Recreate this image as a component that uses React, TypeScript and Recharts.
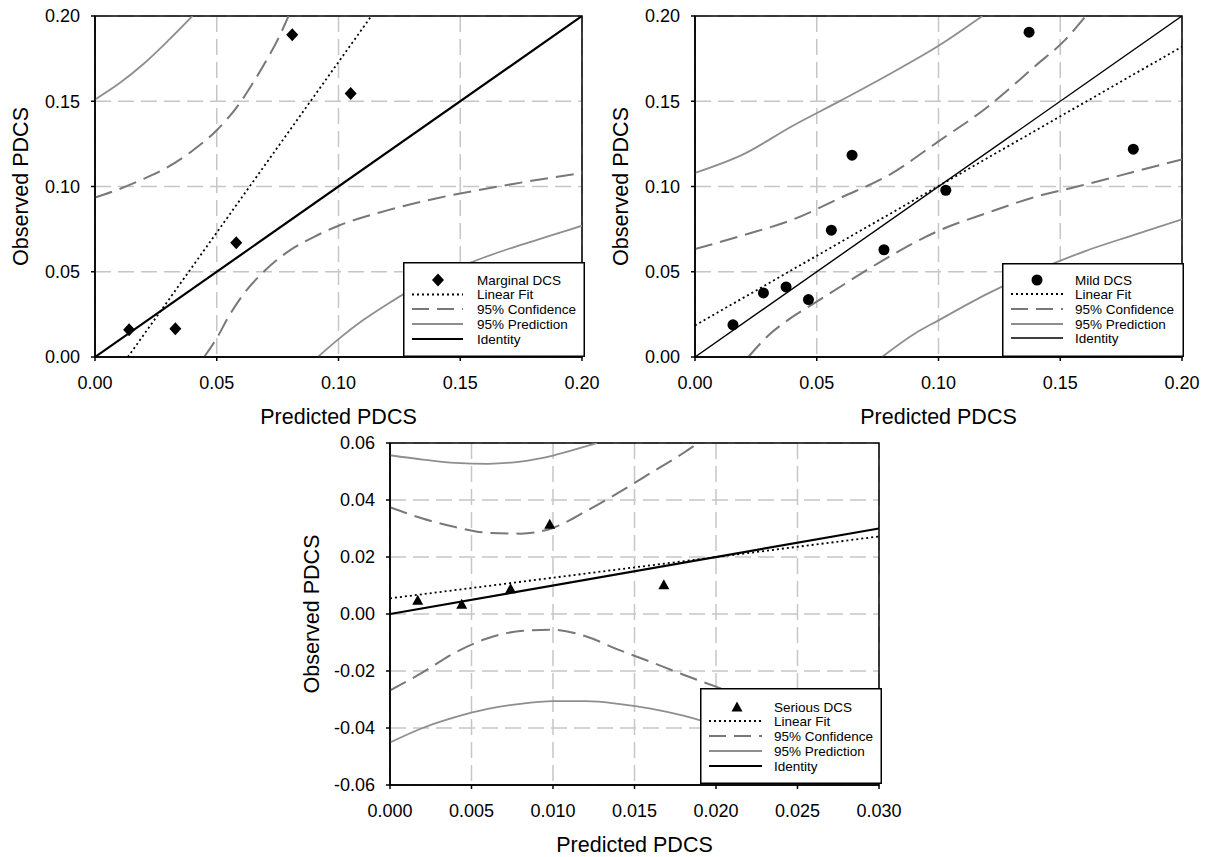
import React from 'react';
import {
  ComposedChart, Scatter, Line, XAxis, YAxis, CartesianGrid,
  ReferenceArea, Legend,
} from 'recharts';

type Pt = [number, number];

// ---- Marginal DCS ----
const marginalX = [0.014, 0.033, 0.058, 0.081, 0.105];
const marginalY = [0.016, 0.0165, 0.067, 0.189, 0.1545];
const marginalFit: Pt[] = [[0.0135, 0], [0.1135, 0.2]];
const marginalCiUpper: Pt[] = [
  [0, 0.0935], [0.01, 0.0985], [0.02, 0.1045], [0.03, 0.1115], [0.04, 0.121],
  [0.05, 0.133], [0.06, 0.15], [0.065, 0.161], [0.07, 0.173], [0.075, 0.186], [0.0795, 0.2],
];
const marginalCiLower: Pt[] = [
  [0.0448, 0], [0.05, 0.011], [0.055, 0.024], [0.06, 0.035], [0.07, 0.051], [0.08, 0.0625],
  [0.09, 0.0705], [0.1, 0.077], [0.12, 0.086], [0.14, 0.093], [0.16, 0.0985], [0.18, 0.1035], [0.2, 0.108],
];
const marginalPiUpper: Pt[] = [[0, 0.151], [0.01, 0.1605], [0.02, 0.172], [0.03, 0.1855], [0.04, 0.2]];
const marginalPiLower: Pt[] = [
  [0.0915, 0], [0.1, 0.0105], [0.11, 0.0215], [0.12, 0.031], [0.13, 0.0395], [0.14, 0.047],
  [0.15, 0.053], [0.16, 0.0585], [0.17, 0.0635], [0.18, 0.068], [0.19, 0.0725], [0.2, 0.077],
];

// ---- Mild DCS ----
const mildX = [0.0156, 0.0281, 0.0374, 0.0466, 0.056, 0.0645, 0.0776, 0.103, 0.1372, 0.18];
const mildY = [0.0189, 0.0376, 0.0411, 0.0337, 0.0744, 0.1184, 0.0629, 0.0978, 0.1905, 0.1219];
const mildFit: Pt[] = [[0, 0.0185], [0.2, 0.182]];
const mildCiUpper: Pt[] = [
  [0, 0.0633], [0.02, 0.0715], [0.04, 0.0805], [0.06, 0.0935], [0.08, 0.107], [0.1, 0.1265],
  [0.12, 0.1465], [0.14, 0.171], [0.152, 0.186], [0.1605, 0.2],
];
const mildCiLower: Pt[] = [
  [0.0219, 0], [0.03, 0.0125], [0.04, 0.0235], [0.05, 0.0325], [0.06, 0.0415], [0.07, 0.0505],
  [0.08, 0.059], [0.09, 0.067], [0.1, 0.074], [0.12, 0.0845], [0.14, 0.094], [0.16, 0.101],
  [0.18, 0.1085], [0.2, 0.1159],
];
const mildPiUpper: Pt[] = [[0, 0.108], [0.02, 0.119], [0.04, 0.1355], [0.06, 0.1505], [0.08, 0.166], [0.1, 0.1825], [0.118, 0.2]];
const mildPiLower: Pt[] = [
  [0.0768, 0], [0.09, 0.0135], [0.1, 0.0215], [0.12, 0.037], [0.14, 0.0505], [0.16, 0.062], [0.18, 0.0715], [0.2, 0.0808],
];

// ---- Serious DCS ----
const seriousX = [0.0017, 0.0044, 0.0074, 0.0098, 0.0168];
const seriousY = [0.0048, 0.0034, 0.0089, 0.0315, 0.0103];
const seriousFit: Pt[] = [[0, 0.0055], [0.03, 0.0272]];
const seriousCiUpper: Pt[] = [
  [0, 0.0375], [0.002, 0.0335], [0.004, 0.0305], [0.006, 0.0285], [0.008, 0.0282], [0.01, 0.0302],
  [0.012, 0.036], [0.014, 0.0425], [0.016, 0.0495], [0.018, 0.0565], [0.0189, 0.06],
];
const seriousCiLower: Pt[] = [
  [0, -0.0268], [0.002, -0.0205], [0.004, -0.0135], [0.006, -0.0085], [0.008, -0.006], [0.01, -0.0055],
  [0.012, -0.0078], [0.014, -0.0125], [0.016, -0.0168], [0.018, -0.0213], [0.02, -0.0255],
  [0.022, -0.0295], [0.025, -0.035], [0.03, -0.044],
];
const seriousPiUpper: Pt[] = [
  [0, 0.0557], [0.002, 0.0542], [0.004, 0.053], [0.006, 0.0527], [0.008, 0.0535], [0.01, 0.0556], [0.012, 0.0588], [0.0127, 0.06],
];
const seriousPiLower: Pt[] = [
  [0, -0.0451], [0.002, -0.04], [0.004, -0.0362], [0.006, -0.0333], [0.008, -0.0315], [0.01, -0.0306],
  [0.012, -0.0306], [0.014, -0.0315], [0.016, -0.0332], [0.018, -0.0357], [0.02, -0.039], [0.025, -0.048], [0.03, -0.057],
];

const ticksTop = [0, 0.05, 0.1, 0.15, 0.2];
const ticksSeriousX = [0, 0.005, 0.01, 0.015, 0.02, 0.025, 0.03];
const ticksSeriousY = [-0.06, -0.04, -0.02, 0, 0.02, 0.04, 0.06];

const FONT = '"Liberation Sans", Arial, Helvetica, sans-serif';
const CI = { stroke: '#787878', strokeWidth: 2, dash: '18 8' };
const PI = { stroke: '#8e8e8e', strokeWidth: 1.8 };
const FIT = { stroke: '#000', strokeWidth: 1.8, dash: '2 3' };

const rows = (pts: Pt[]) => pts.map(([x, y]) => ({ x, y }));
const zip = (xs: number[], ys: number[]) => xs.map((x, i) => ({ x, y: ys[i] }));

type Shape = 'diamond' | 'circle' | 'triangle';

function marker(kind: Shape, cx: number, cy: number) {
  if (kind === 'diamond') return <path d={`M${cx},${cy - 6.5}L${cx + 6},${cy}L${cx},${cy + 6.5}L${cx - 6},${cy}Z`} fill="#000" />;
  if (kind === 'circle') return <circle cx={cx} cy={cy} r={5.5} fill="#000" />;
  return <path d={`M${cx},${cy - 5.5}L${cx + 5.5},${cy + 4.5}L${cx - 5.5},${cy + 4.5}Z`} fill="#000" />;
}

function LegendBox({ w, h, name, kind, idWidth, rowY, sx1, sx2, tx, mx }: {
  w: number; h: number; name: string; kind: Shape; idWidth: number;
  rowY: number[]; sx1: number; sx2: number; tx: number; mx: number;
}) {
  const labels = [name, 'Linear Fit', '95% Confidence', '95% Prediction', 'Identity'];
  return (
    <svg width={w} height={h} style={{ display: 'block' }}>
      <rect x={0.75} y={0.75} width={w - 1.5} height={h - 1.5} fill="#fff" stroke="#000" strokeWidth={1.5} />
      {marker(kind, mx, rowY[0])}
      <line x1={sx1} x2={sx2} y1={rowY[1]} y2={rowY[1]} stroke={FIT.stroke} strokeWidth={FIT.strokeWidth} strokeDasharray={FIT.dash} />
      <line x1={sx1} x2={sx2} y1={rowY[2]} y2={rowY[2]} stroke={CI.stroke} strokeWidth={CI.strokeWidth} strokeDasharray="17 8" />
      <line x1={sx1} x2={sx2} y1={rowY[3]} y2={rowY[3]} stroke={PI.stroke} strokeWidth={PI.strokeWidth} />
      <line x1={sx1} x2={sx2} y1={rowY[4]} y2={rowY[4]} stroke="#000" strokeWidth={idWidth} />
      {labels.map((t, i) => (
        <text key={t} x={tx} y={rowY[i]} dy="0.36em" fontSize={13.5} fill="#000" fontFamily={FONT}>{t}</text>
      ))}
    </svg>
  );
}

interface PanelProps {
  left: number; top: number; width: number; height: number;
  margin: { top: number; right: number; bottom: number; left: number };
  yAxisWidth: number; xAxisHeight: number;
  xDomain: [number, number]; yDomain: [number, number];
  xTicks: number[]; yTicks: number[]; xDigits: number;
  points: { x: number; y: number }[];
  fit: Pt[]; ciUp: Pt[]; ciLo: Pt[]; piUp: Pt[]; piLo: Pt[];
  kind: Shape; name: string; idWidth: number;
  yLabelOffset: number; xLabelOffset: number;
  legend: { left: number; top: number; w: number; h: number; rowY: number[]; sx1: number; sx2: number; tx: number; mx: number };
}

function Panel(p: PanelProps) {
  const identity = rows([[p.xDomain[0], p.xDomain[0]], [p.xDomain[1], p.xDomain[1]]]);
  const tick = { fontSize: 18, fill: '#000', fontFamily: FONT };
  const lg = p.legend;
  return (
    <div style={{ position: 'absolute', left: p.left, top: p.top }}>
      <ComposedChart width={p.width} height={p.height} margin={p.margin}>
        <CartesianGrid stroke="#c6c6c6" strokeWidth={1.5} strokeDasharray="16 7" />
        <XAxis
          dataKey="x" type="number" domain={p.xDomain} ticks={p.xTicks} allowDataOverflow
          height={p.xAxisHeight} tick={tick} tickSize={4} tickMargin={15}
          tickFormatter={(v: number) => v.toFixed(p.xDigits)}
          axisLine={{ stroke: '#000', strokeWidth: 1.5 }} tickLine={{ stroke: '#000', strokeWidth: 1.5 }}
          label={{ value: 'Predicted PDCS', position: 'insideBottom', offset: p.xLabelOffset, fontSize: 21.5, fill: '#000', fontFamily: FONT }}
        />
        <YAxis
          dataKey="y" type="number" domain={p.yDomain} ticks={p.yTicks} allowDataOverflow
          width={p.yAxisWidth} tick={tick} tickSize={4} tickMargin={11}
          tickFormatter={(v: number) => v.toFixed(2)}
          axisLine={{ stroke: '#000', strokeWidth: 1.5 }} tickLine={{ stroke: '#000', strokeWidth: 1.5 }}
          label={{ value: 'Observed PDCS', angle: -90, position: 'insideLeft', offset: p.yLabelOffset, fontSize: 21.5, fill: '#000', fontFamily: FONT, style: { textAnchor: 'middle' } }}
        />
        <ReferenceArea x1={p.xDomain[0]} x2={p.xDomain[1]} y1={p.yDomain[0]} y2={p.yDomain[1]} fill="none" stroke="#000" strokeWidth={1.5} />
        <Line data={rows(p.piUp)} dataKey="y" type="monotone" dot={false} activeDot={false} isAnimationActive={false} stroke={PI.stroke} strokeWidth={PI.strokeWidth} />
        <Line data={rows(p.piLo)} dataKey="y" type="monotone" dot={false} activeDot={false} isAnimationActive={false} stroke={PI.stroke} strokeWidth={PI.strokeWidth} />
        <Line data={rows(p.ciUp)} dataKey="y" type="monotone" dot={false} activeDot={false} isAnimationActive={false} stroke={CI.stroke} strokeWidth={CI.strokeWidth} strokeDasharray={CI.dash} />
        <Line data={rows(p.ciLo)} dataKey="y" type="monotone" dot={false} activeDot={false} isAnimationActive={false} stroke={CI.stroke} strokeWidth={CI.strokeWidth} strokeDasharray={CI.dash} />
        <Line data={identity} dataKey="y" type="linear" dot={false} activeDot={false} isAnimationActive={false} stroke="#000" strokeWidth={p.idWidth} />
        <Line data={rows(p.fit)} dataKey="y" type="linear" dot={false} activeDot={false} isAnimationActive={false} stroke={FIT.stroke} strokeWidth={FIT.strokeWidth} strokeDasharray={FIT.dash} />
        <Scatter data={p.points} isAnimationActive={false} shape={(s: any) => marker(p.kind, s.cx, s.cy)} />
        <Legend
          layout="vertical" align="center" verticalAlign="middle"
          wrapperStyle={{ left: lg.left, top: lg.top, width: lg.w, height: lg.h }}
          content={() => (
            <LegendBox w={lg.w} h={lg.h} name={p.name} kind={p.kind} idWidth={p.idWidth}
              rowY={lg.rowY} sx1={lg.sx1} sx2={lg.sx2} tx={lg.tx} mx={lg.mx} />
          )}
        />
      </ComposedChart>
    </div>
  );
}

export default function App() {
  return (
    <div style={{ position: 'absolute', left: 0, top: 0, width: 1208, height: 857, background: '#fff', fontFamily: FONT, overflow: 'hidden' }}>
      <Panel
        left={0} top={0} width={600} height={432}
        margin={{ top: 16, right: 18, bottom: 0, left: 0 }} yAxisWidth={95} xAxisHeight={75}
        xDomain={[0, 0.2]} yDomain={[0, 0.2]} xTicks={ticksTop} yTicks={ticksTop} xDigits={2}
        points={zip(marginalX, marginalY)} fit={marginalFit}
        ciUp={marginalCiUpper} ciLo={marginalCiLower} piUp={marginalPiUpper} piLo={marginalPiLower}
        kind="diamond" name="Marginal DCS" idWidth={2.2} yLabelOffset={20} xLabelOffset={8}
        legend={{ left: 403, top: 262, w: 182, h: 95, rowY: [18, 32.5, 47, 62, 77], sx1: 9, sx2: 60, tx: 74, mx: 35 }}
      />
      <Panel
        left={600} top={0} width={600} height={432}
        margin={{ top: 16, right: 18, bottom: 0, left: 0 }} yAxisWidth={95} xAxisHeight={75}
        xDomain={[0, 0.2]} yDomain={[0, 0.2]} xTicks={ticksTop} yTicks={ticksTop} xDigits={2}
        points={zip(mildX, mildY)} fit={mildFit}
        ciUp={mildCiUpper} ciLo={mildCiLower} piUp={mildPiUpper} piLo={mildPiLower}
        kind="circle" name="Mild DCS" idWidth={1.4} yLabelOffset={20} xLabelOffset={8}
        legend={{ left: 402, top: 263, w: 182, h: 94, rowY: [17, 31, 46, 61, 75], sx1: 9, sx2: 61, tx: 73, mx: 35 }}
      />
      <Panel
        left={290} top={420} width={630} height={437}
        margin={{ top: 23, right: 41, bottom: 0, left: 0 }} yAxisWidth={100} xAxisHeight={72}
        xDomain={[0, 0.03]} yDomain={[-0.06, 0.06]} xTicks={ticksSeriousX} yTicks={ticksSeriousY} xDigits={3}
        points={zip(seriousX, seriousY)} fit={seriousFit}
        ciUp={seriousCiUpper} ciLo={seriousCiLower} piUp={seriousPiUpper} piLo={seriousPiLower}
        kind="triangle" name="Serious DCS" idWidth={2.2} yLabelOffset={21} xLabelOffset={5}
        legend={{ left: 410, top: 268, w: 182, h: 96, rowY: [19, 33, 48, 63, 78], sx1: 9, sx2: 62, tx: 74, mx: 37 }}
      />
    </div>
  );
}
